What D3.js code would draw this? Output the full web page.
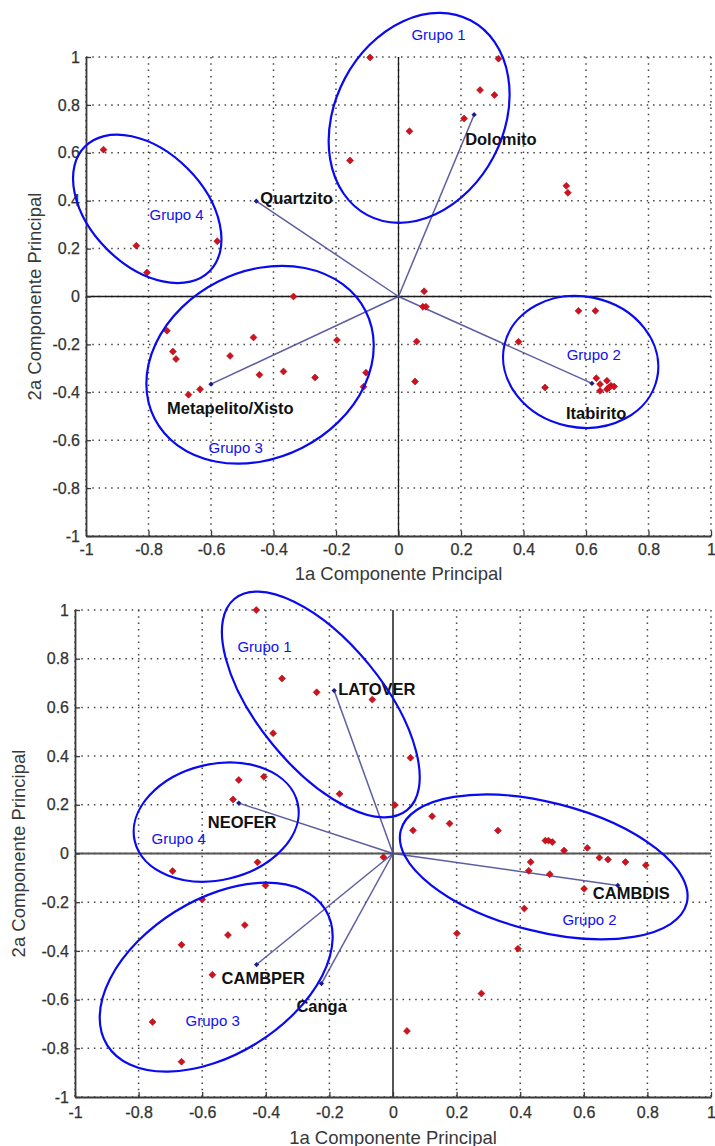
<!DOCTYPE html>
<html>
<head>
<meta charset="utf-8">
<script src="https://cdn.jsdelivr.net/npm/d3@7/dist/d3.min.js"></script>
<style>
  html, body { margin: 0; padding: 0; background: #fff; }
  svg { display: block; }
  text { font-family: "Liberation Sans", Arial, Helvetica, sans-serif; }
</style>
</head>
<body>
<svg id="chart" width="715" height="1146"></svg>
<script>
// ---- Shared axis ticks ----
const tickValues = [-1, -0.8, -0.6, -0.4, -0.2, 0, 0.2, 0.4, 0.6, 0.8, 1];
const tickLabels = ["-1", "-0.8", "-0.6", "-0.4", "-0.2", "0", "0.2", "0.4", "0.6", "0.8", "1"];
const xTitle = "1a Componente Principal";
const yTitle = "2a Componente Principal";

// ---- Biplot 1: lithology ----
const rochaScores = [
  [-0.944, 0.613], [-0.839, 0.212], [-0.805, 0.100], [-0.580, 0.231],
  [-0.155, 0.568], [-0.091, 0.998], [0.320, 0.993], [0.261, 0.862],
  [0.307, 0.841], [0.210, 0.743], [0.035, 0.690], [0.537, 0.462],
  [0.542, 0.433], [0.082, 0.022], [0.078, -0.043], [0.088, -0.043],
  [0.058, -0.188], [0.053, -0.355], [0.384, -0.189], [0.576, -0.060],
  [0.630, -0.060], [0.469, -0.380], [0.633, -0.341], [0.645, -0.366],
  [0.667, -0.352], [0.645, -0.394], [0.667, -0.387], [0.680, -0.373],
  [0.690, -0.376], [0.674, -0.380], [-0.336, 0.000], [-0.741, -0.143],
  [-0.464, -0.171], [-0.197, -0.182], [-0.722, -0.230], [-0.712, -0.261],
  [-0.539, -0.248], [-0.368, -0.313], [-0.445, -0.327], [-0.267, -0.338],
  [-0.635, -0.387], [-0.672, -0.410], [-0.104, -0.318], [-0.112, -0.377]
];
const rochaNomes = ["Quartzito", "Dolomito", "Metapelito/Xisto", "Itabirito"];
const rochaCargas = [[-0.455, 0.398], [0.242, 0.759], [-0.600, -0.366], [0.619, -0.363]];

// ---- Biplot 2: soil / cover classes ----
const soloScores = [
  [-0.430, 1.000], [-0.349, 0.719], [-0.240, 0.662], [-0.377, 0.494],
  [-0.485, 0.302], [-0.406, 0.315], [-0.503, 0.222], [-0.168, 0.245],
  [-0.426, -0.036], [-0.693, -0.072], [-0.065, 0.632], [0.055, 0.393],
  [0.006, 0.199], [0.123, 0.153], [0.063, 0.095], [0.178, 0.123],
  [0.330, 0.094], [0.479, 0.053], [0.489, 0.053], [0.501, 0.047],
  [0.538, 0.012], [0.611, 0.023], [0.649, -0.017], [0.676, -0.025],
  [0.731, -0.035], [0.795, -0.048], [-0.030, -0.015], [0.433, -0.035],
  [0.427, -0.071], [0.493, -0.085], [0.601, -0.145], [0.413, -0.226],
  [0.201, -0.328], [0.393, -0.391], [0.278, -0.575], [0.044, -0.729],
  [-0.401, -0.131], [-0.600, -0.189], [-0.466, -0.294], [-0.519, -0.335],
  [-0.665, -0.375], [-0.568, -0.498], [-0.756, -0.692], [-0.665, -0.855]
];
const soloNomes = ["LATOVER", "NEOFER", "CAMBDIS", "CAMBPER", "Canga"];
const soloCargas = [[-0.185, 0.669], [-0.485, 0.207], [0.707, -0.131], [-0.429, -0.456], [-0.225, -0.534]];

const grupoNomes = ["Grupo 1", "Grupo 2", "Grupo 3", "Grupo 4"];

// ---- Layout: panel frames, label offsets, group outlines ----
const panels = [
  {
    scores: rochaScores, nomes: rochaNomes, cargas: rochaCargas,
    left: 86, right: 711, top: 57, bottom: 536,
    yLabelPad: 6, xLabelPad: 8, yTitleX: 34, xTitleY: 573,
    zeroColor: "#1a1a1a", zeroWidth: 1.3,
    labelOffsets: [[4, -3], [-9, 24], [-44, 24], [-26, 30]],
    // ellipse: centre (data), radii (x units, y units), rotation in degrees
    outlines: [
      { cx: 0.066, cy: 0.746, rx: 0.269, ry: 0.460, rot: 28, lx: 0.128, ly: 1.096 },
      { cx: 0.583, cy: -0.273, rx: 0.250, ry: 0.273, rot: 12, lx: 0.625, ly: -0.243 },
      { cx: -0.443, cy: -0.285, rx: 0.379, ry: 0.389, rot: -27, lx: -0.521, ly: -0.632 },
      { cx: -0.804, cy: 0.366, rx: 0.282, ry: 0.238, rot: 45, lx: -0.710, ly: 0.341 }
    ]
  },
  {
    scores: soloScores, nomes: soloNomes, cargas: soloCargas,
    left: 75, right: 711, top: 610, bottom: 1097,
    yLabelPad: 6, xLabelPad: 10, yTitleX: 18, xTitleY: 1137,
    zeroColor: "#555", zeroWidth: 2,
    labelOffsets: [[4, -2], [-31, 19], [-25, 8], [-35, 13], [-25, 22]],
    outlines: [
      { cx: -0.227, cy: 0.612, rx: 0.429, ry: 0.257, rot: 50.8, lx: -0.404, ly: 0.850 },
      { cx: 0.474, cy: -0.055, rx: 0.464, ry: 0.265, rot: 14.3, lx: 0.618, ly: -0.271 },
      { cx: -0.556, cy: -0.508, rx: 0.404, ry: 0.318, rot: -31.9, lx: -0.567, ly: -0.686 },
      { cx: -0.556, cy: 0.129, rx: 0.263, ry: 0.238, rot: -13.1, lx: -0.674, ly: 0.062 }
    ]
  }
];

const svg = d3.select("#chart");
const fmt = v => tickLabels[tickValues.indexOf(v)];

panels.forEach(p => {
  const x = d3.scaleLinear().domain([-1, 1]).range([p.left, p.right]);
  const y = d3.scaleLinear().domain([-1, 1]).range([p.bottom, p.top]);
  const g = svg.append("g");

  // dotted grid
  const grid = g.append("g").attr("stroke", "#444").attr("stroke-width", 1.5)
    .attr("stroke-dasharray", "1.5,4.8");
  grid.selectAll("line.v").data(tickValues).join("line").attr("class", "v")
    .attr("x1", d => x(d)).attr("x2", d => x(d)).attr("y1", y(1)).attr("y2", y(-1));
  grid.selectAll("line.h").data(tickValues).join("line").attr("class", "h")
    .attr("y1", d => y(d)).attr("y2", d => y(d)).attr("x1", x(-1)).attr("x2", x(1));

  // zero lines
  g.append("line").attr("x1", x(0)).attr("x2", x(0)).attr("y1", y(1)).attr("y2", y(-1))
    .attr("stroke", p.zeroColor).attr("stroke-width", p.zeroWidth);
  g.append("line").attr("x1", x(-1)).attr("x2", x(1)).attr("y1", y(0)).attr("y2", y(0))
    .attr("stroke", p.zeroColor).attr("stroke-width", p.zeroWidth);

  // axes
  const ax = g.append("g").attr("transform", `translate(0,${p.bottom})`)
    .call(d3.axisBottom(x).tickValues(tickValues).tickFormat(fmt)
      .tickSizeInner(-5).tickSizeOuter(0).tickPadding(p.xLabelPad));
  const ay = g.append("g").attr("transform", `translate(${p.left},0)`)
    .call(d3.axisLeft(y).tickValues(tickValues).tickFormat(fmt)
      .tickSizeInner(-5).tickSizeOuter(0).tickPadding(p.yLabelPad));
  [ax, ay].forEach(a => {
    a.select(".domain").attr("stroke", "#3a3a3a").attr("stroke-width", 1.8);
    a.selectAll(".tick line").attr("stroke", "#3a3a3a").attr("stroke-width", 1.3);
    a.selectAll(".tick text").attr("fill", "#333")
      .attr("stroke", "#333").attr("stroke-width", 0.25)
      .style("font-size", "16px").style("font-family", '"Liberation Sans", Arial, sans-serif');
  });

  // axis titles
  g.append("text").attr("x", (p.left + p.right) / 2).attr("y", p.xTitleY)
    .attr("text-anchor", "middle").attr("dominant-baseline", "central")
    .attr("fill", "#383838").style("font-size", "18.5px").text(xTitle);
  g.append("text")
    .attr("transform", `translate(${p.yTitleX},${(p.top + p.bottom) / 2}) rotate(-90)`)
    .attr("text-anchor", "middle").attr("dominant-baseline", "central")
    .attr("fill", "#383838").style("font-size", "18.5px").text(yTitle);

  // loading vectors
  g.selectAll("line.vec").data(p.cargas).join("line").attr("class", "vec")
    .attr("x1", x(0)).attr("y1", y(0))
    .attr("x2", d => x(d[0])).attr("y2", d => y(d[1]))
    .attr("stroke", "#4b4b98").attr("stroke-width", 1.5).attr("stroke-opacity", 0.9);

  // observation scores
  const sq = d3.symbol().type(d3.symbolSquare).size(24);
  g.selectAll("path.pt").data(p.scores).join("path").attr("class", "pt")
    .attr("d", sq)
    .attr("transform", d => `translate(${x(d[0])},${y(d[1])}) rotate(45)`)
    .attr("fill", "#d0121e").attr("stroke", "#a80e18").attr("stroke-width", 0.6);

  // vector tips
  const tip = d3.symbol().type(d3.symbolSquare).size(14);
  g.selectAll("path.tip").data(p.cargas).join("path").attr("class", "tip")
    .attr("d", tip)
    .attr("transform", d => `translate(${x(d[0])},${y(d[1])}) rotate(45)`)
    .attr("fill", "#1c1c8c");

  // vector names
  g.selectAll("text.nome").data(p.nomes).join("text").attr("class", "nome")
    .attr("x", (d, i) => x(p.cargas[i][0]) + p.labelOffsets[i][0])
    .attr("y", (d, i) => y(p.cargas[i][1]) + p.labelOffsets[i][1])
    .attr("dominant-baseline", "central")
    .attr("fill", "#111").style("font-size", "16.5px").style("font-weight", "bold")
    .text(d => d);

  // group outlines
  g.selectAll("ellipse.grp").data(p.outlines).join("ellipse").attr("class", "grp")
    .attr("cx", d => x(d.cx)).attr("cy", d => y(d.cy))
    .attr("rx", d => x(d.cx + d.rx) - x(d.cx))
    .attr("ry", d => y(d.cy) - y(d.cy + d.ry))
    .attr("transform", d => `rotate(${d.rot},${x(d.cx)},${y(d.cy)})`)
    .attr("fill", "none").attr("stroke", "#0a0af0").attr("stroke-width", 2.2);

  g.selectAll("text.grp").data(p.outlines).join("text").attr("class", "grp")
    .attr("x", d => x(d.lx)).attr("y", d => y(d.ly))
    .attr("text-anchor", "middle").attr("dominant-baseline", "central")
    .attr("fill", "#1010f0").style("font-size", "15px")
    .text((d, i) => grupoNomes[i]);
});
</script>
</body>
</html>
